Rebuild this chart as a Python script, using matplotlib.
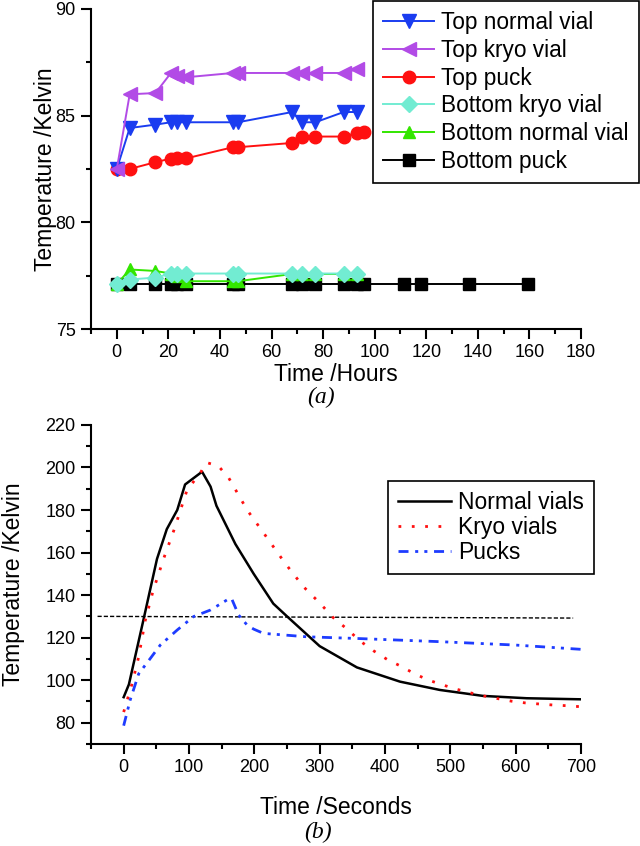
import matplotlib
matplotlib.use("Agg")
import matplotlib.pyplot as plt
from matplotlib.ticker import MultipleLocator

plt.rcParams['font.family'] = ['Liberation Sans', 'DejaVu Sans']

# (a) temperatures during storage, hours
hours = [0, 5, 15, 21, 23.5, 27, 45, 47, 68, 72, 77, 88, 93]
top_normal = [82.5, 84.42, 84.58, 84.69, 84.69, 84.69, 84.69, 84.69, 85.17, 84.69, 84.69, 85.17, 85.17]
top_kryo = [82.5, 86.0, 86.06, 87.0, 86.84, 86.8, 87.0, 87.0, 87.0, 87.0, 87.0, 87.0, 87.18]
puck_hours = [0, 5, 15, 21, 23.5, 27, 45, 47, 68, 72, 77, 88, 93, 96]
top_puck = [82.5, 82.5, 82.82, 82.99, 83.0, 83.0, 83.52, 83.52, 83.72, 84.02, 84.02, 84.02, 84.19, 84.22]
bottom_kryo = [77.1, 77.32, 77.41, 77.6, 77.6, 77.6, 77.6, 77.6, 77.6, 77.6, 77.6, 77.6, 77.6]
bottom_normal = [77.1, 77.79, 77.72, 77.6, 77.5, 77.24, 77.24, 77.24, 77.58, 77.58, 77.58, 77.58, 77.58]
bpuck_hours = [0, 5, 15, 21, 23.5, 27, 45, 47, 68, 72, 77, 88, 93, 96, 111.5, 118, 136.5, 159.5]
bottom_puck = [77.09] * len(bpuck_hours)

# (b) warming on the bench, seconds
t_normal = [0, 8, 30, 51, 66, 82, 94, 120, 133, 142, 171, 199, 229, 250, 300, 357, 423, 484, 550, 617, 700]
T_normal = [92, 98, 128, 157, 171, 180, 192, 198, 191, 182, 164, 150, 136, 130, 116, 106, 99.3, 95.4, 92.6, 91.5, 91]
t_kryo = [0, 13, 23, 33, 45, 61, 77, 97, 117, 127, 145, 161, 189, 217, 247, 275, 301, 320, 342, 362, 382,
          403, 426, 446, 466, 489, 510, 530, 551, 573, 594, 615, 636, 658, 678, 700]
T_kryo = [85, 98.5, 111, 128, 142, 157, 170.6, 189.4, 197.3, 202.3, 200.7, 195, 180, 168, 155, 144, 136, 129.6,
          124, 118.4, 113.9, 109.8, 106.3, 102.9, 100.1, 97.7, 95.7, 94.1, 92.6, 91.3, 90.1, 89.3, 88.8, 88.3, 88, 87.5]
t_puck = [0, 10, 23, 41, 56, 82, 107, 133, 158, 165, 176, 189, 199, 214, 280, 357, 484, 600, 700]
T_puck = [78.6, 90.7, 103, 110.3, 116.5, 123.6, 129.9, 133, 137.7, 138.5, 130.6, 125.9, 124, 122, 120.4, 119.6, 118.1, 116.5, 114.5]
ref_t = [-40, 688]
ref_T = [130, 129.2]

fig = plt.figure(figsize=(6.4, 8.46), dpi=100)


def style_axes(ax):
    for s in ['top', 'right']:
        ax.spines[s].set_visible(False)
    for s in ['left', 'bottom']:
        ax.spines[s].set_linewidth(1.5)
    ax.tick_params(which='major', length=7, width=1.5, labelsize=13, pad=4)
    ax.tick_params(which='minor', length=3.6, width=1.5)


ax1 = fig.add_axes([0.1422, 0.6111, 0.7656, 0.3783])
l_bp, = ax1.plot(bpuck_hours, bottom_puck, '-s', color='black', lw=1.4, ms=8)
l_bn, = ax1.plot(hours, bottom_normal, '-^', color='#33e600', lw=1.4, ms=9)
l_bk, = ax1.plot(hours, bottom_kryo, '-D', color='#72ecd2', lw=1.4, ms=8)
l_tp, = ax1.plot(puck_hours, top_puck, '-o', color='#ff1010', lw=1.4, ms=9)
l_tn, = ax1.plot(hours, top_normal, '-v', color='#1a3cf0', lw=1.4, ms=10)
l_tk, = ax1.plot(hours, top_kryo, '-<', color='#b24be6', lw=1.4, ms=10)
ax1.set_xlim(-10, 180)
ax1.set_ylim(75, 90)
ax1.xaxis.set_major_locator(MultipleLocator(20))
ax1.xaxis.set_minor_locator(MultipleLocator(10))
ax1.yaxis.set_major_locator(MultipleLocator(5))
ax1.yaxis.set_minor_locator(MultipleLocator(2.5))
style_axes(ax1)
ax1.set_xlabel('Time /Hours', fontsize=16.5, labelpad=1)
ax1.set_ylabel('Temperature /Kelvin', fontsize=16.5)
ax1.yaxis.set_label_coords(-0.069, 0.5)
leg1 = ax1.legend([l_tn, l_tk, l_tp, l_bk, l_bn, l_bp],
                  ['Top normal vial', 'Top kryo vial', 'Top puck', 'Bottom kryo vial',
                   'Bottom normal vial', 'Bottom puck'],
                  loc='upper right', bbox_to_anchor=(0.998, 0.999), bbox_transform=fig.transFigure,
                  fontsize=16.3, fancybox=False, framealpha=1, edgecolor='black', borderaxespad=0,
                  handlelength=2.25, handletextpad=0.3, labelspacing=0.21, borderpad=0.45)
leg1.get_frame().set_linewidth(1.2)

ax2 = fig.add_axes([0.1422, 0.1206, 0.7656, 0.3771])
ax2.plot(ref_t, ref_T, color='black', lw=1.0, dashes=(3, 1.5))
l_n, = ax2.plot(t_normal, T_normal, color='black', lw=1.8)
l_k, = ax2.plot(t_kryo, T_kryo, color='#ff1010', lw=2.0, dashes=(1, 3.8))
l_p, = ax2.plot(t_puck, T_puck, color='#1e3cff', lw=2.0, dashes=(3.6, 2.4, 1.1, 2.2, 1.1, 2.4))
ax2.set_xlim(-50, 700)
ax2.set_ylim(70, 220)
ax2.xaxis.set_major_locator(MultipleLocator(100))
ax2.xaxis.set_minor_locator(MultipleLocator(50))
ax2.yaxis.set_major_locator(MultipleLocator(20))
ax2.yaxis.set_minor_locator(MultipleLocator(10))
style_axes(ax2)
ax2.set_xlabel('Time /Seconds', fontsize=16.5, labelpad=14)
ax2.set_ylabel('Temperature /Kelvin', fontsize=16.5)
ax2.yaxis.set_label_coords(-0.134, 0.5)
leg2 = ax2.legend([l_n, l_k, l_p], ['Normal vials', 'Kryo vials', 'Pucks'],
                  loc='upper right', bbox_to_anchor=(0.928, 0.4314), bbox_transform=fig.transFigure,
                  fontsize=16.5, fancybox=False, framealpha=1, edgecolor='black', borderaxespad=0,
                  handlelength=2.3, handletextpad=0.3, labelspacing=0.08, borderpad=0.45)
leg2.get_frame().set_linewidth(1.2)

fig.text(321 / 640, 1 - 397 / 846, '(a)', family='Liberation Serif', style='italic',
         fontsize=17, ha='center', va='center')
fig.text(318 / 640, 1 - 832 / 846, '(b)', family='Liberation Serif', style='italic',
         fontsize=17, ha='center', va='center')

fig.savefig('out.png', dpi=100)
